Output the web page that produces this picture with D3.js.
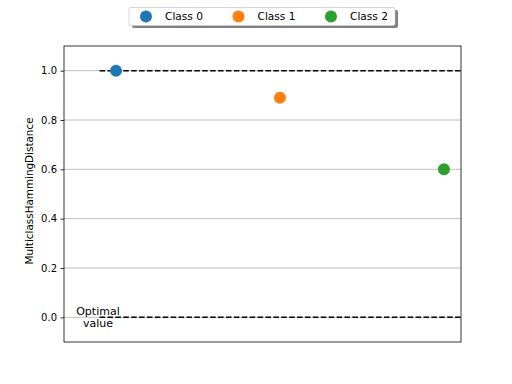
<!DOCTYPE html>
<html>
<head>
<meta charset="utf-8">
<script src="https://cdn.jsdelivr.net/npm/d3@7"></script>
<style>
  body { margin: 0; background: #fff; }
  text { font-family: "DejaVu Sans", sans-serif; }
</style>
</head>
<body>
<div id="chart"></div>
<script>
// data
const classes = ["Class 0", "Class 1", "Class 2"]
const values = [1.0, 0.89, 0.6]
const colors = ["#1f77b4", "#ff7f0e", "#2ca02c"]
const yTicks = [0.0, 0.2, 0.4, 0.6, 0.8, 1.0]
const refLines = [1.0, 0.0]

const width = 512
const height = 384
const margin = {left: 64, right: 51, top: 46, bottom: 42}

const svg = d3.select("#chart")
  .append("svg")
    .attr("width", width)
    .attr("height", height)

const x = d3.scaleLinear()
  .domain([-0.317, 2.104])
  .range([margin.left, width - margin.right])

const y = d3.scaleLinear()
  .domain([-0.1, 1.1])
  .range([height - margin.bottom, margin.top])

// grid lines
svg.append("g")
  .selectAll("line")
  .data(yTicks)
  .join("line")
    .attr("x1", margin.left)
    .attr("x2", width - margin.right)
    .attr("y1", d => y(d))
    .attr("y2", d => y(d))
    .attr("stroke", "#b0b0b0")
    .attr("stroke-width", 0.8)

// y axis
const yAxis = svg.append("g")
  .attr("transform", `translate(${margin.left},0)`)
  .call(d3.axisLeft(y).tickValues(yTicks).tickFormat(d3.format(".1f")).tickSize(3.5).tickPadding(3.5))
yAxis.select(".domain").remove()
yAxis.selectAll("text").style("font-size", "10px").attr("fill", "#000")
yAxis.selectAll("line").attr("stroke", "#000").attr("stroke-width", 0.8)

// reference dashed lines (start a bit left of first point)
svg.append("g")
  .selectAll("line")
  .data(refLines)
  .join("line")
    .attr("x1", x(-0.1))
    .attr("x2", width - margin.right)
    .attr("y1", d => y(d))
    .attr("y2", d => y(d))
    .attr("stroke", "#000")
    .attr("stroke-width", 1.5)
    .attr("stroke-dasharray", "5.5,2.4")

// frame
svg.append("rect")
  .attr("x", margin.left)
  .attr("y", margin.top)
  .attr("width", width - margin.left - margin.right)
  .attr("height", height - margin.top - margin.bottom)
  .attr("fill", "none")
  .attr("stroke", "#000")
  .attr("stroke-width", 0.8)

// points
svg.append("g")
  .selectAll("circle")
  .data(values)
  .join("circle")
    .attr("cx", (d, i) => x(i))
    .attr("cy", d => y(d))
    .attr("r", 6)
    .attr("fill", (d, i) => colors[i])

// optimal value label
const opt = svg.append("text")
  .attr("x", x(-0.11))
  .attr("y", y(0))
  .attr("text-anchor", "middle")
  .style("font-size", "11px")
opt.append("tspan").attr("x", x(-0.11)).attr("dy", "-2.5").text("Optimal")
opt.append("tspan").attr("x", x(-0.11)).attr("dy", "12").text("value")

// y label
svg.append("text")
  .attr("transform", `translate(33,${(margin.top + height - margin.bottom) / 2 - 3}) rotate(-90)`)
  .attr("text-anchor", "middle")
  .style("font-size", "10.4px")
  .text("MulticlassHammingDistance")

// legend
const legend = svg.append("g")
legend.append("rect")
  .attr("x", 132).attr("y", 10)
  .attr("width", 266).attr("height", 18)
  .attr("rx", 2)
  .attr("fill", "#808080")
legend.append("rect")
  .attr("x", 129).attr("y", 7.5)
  .attr("width", 266).attr("height", 18)
  .attr("rx", 2)
  .attr("fill", "#fff")
  .attr("stroke", "#ccc")
  .attr("stroke-width", 0.8)

const item = legend.selectAll("g.item")
  .data(classes)
  .join("g")
    .attr("class", "item")
    .attr("transform", (d, i) => `translate(${146 + i * 92.5},16.5)`)
item.append("circle")
  .attr("r", 6)
  .attr("fill", (d, i) => colors[i])
item.append("text")
  .attr("x", 19)
  .attr("dy", "0.35em")
  .style("font-size", "10.6px")
  .text(d => d)
</script>
</body>
</html>
